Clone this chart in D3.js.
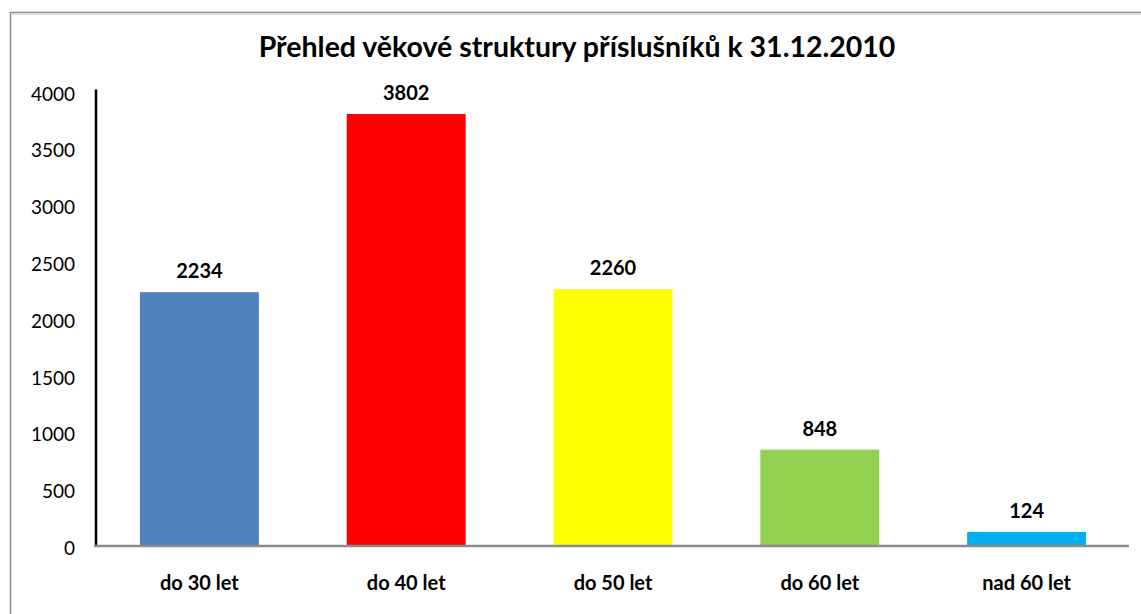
<!DOCTYPE html>
<html><head><meta charset="utf-8">
<script src="https://cdn.jsdelivr.net/npm/d3@7"></script>
<style>body{margin:0;background:#fff}svg{display:block}text{font-family:Lato,"Open Sans",sans-serif}</style>
</head><body>
<script>
const categories = ["do 30 let","do 40 let","do 50 let","do 60 let","nad 60 let"];
const values = [2234,3802,2260,848,124];
const colors = ["#4F81BD","#FF0000","#FFFF00","#92D050","#00B0F0"];
const yTicks = [0,500,1000,1500,2000,2500,3000,3500,4000];
const title = "Přehled věkové struktury příslušníků k 31.12.2010";

const W=1141,H=614;
const svg=d3.select("body").append("svg").attr("width",W).attr("height",H);
svg.append("rect").attr("x",10.5).attr("y",12.5).attr("width",1150).attr("height",620)
  .attr("fill","#fff").attr("stroke","#8c8c8c").attr("stroke-width",1.5);
svg.append("line").attr("x1",11).attr("x2",W).attr("y1",14.5).attr("y2",14.5).attr("stroke","#dcdcdc");

const m={l:96,r:1130,t:91.5,b:546};
const x=d3.scaleBand().domain(categories).range([m.l,m.r]).paddingInner(0.425).paddingOuter(0.2125);
const y=d3.scaleLinear().domain([0,4000]).range([m.b,m.t]);

svg.append("text").attr("x",577).attr("y",57).attr("text-anchor","middle")
  .attr("font-size",28.5).attr("font-weight","bold").attr("fill","#000").text(title);

svg.selectAll("rect.bar").data(values).enter().append("rect").attr("class","bar")
  .attr("x",(d,i)=>x(categories[i])).attr("width",x.bandwidth())
  .attr("y",d=>y(d)).attr("height",d=>y(0)-y(d)).attr("fill",(d,i)=>colors[i]);

svg.selectAll("text.val").data(values).enter().append("text").attr("class","val")
  .attr("x",(d,i)=>x(categories[i])+x.bandwidth()/2).attr("y",d=>y(d)-14)
  .attr("text-anchor","middle").attr("font-size",20).attr("font-weight","bold").text(d=>d);

const ya=svg.append("g").attr("transform",`translate(${m.l},0)`)
  .call(d3.axisLeft(y).tickValues(yTicks).tickSize(0).tickPadding(21).tickFormat(d3.format("d")));
ya.select(".domain").attr("stroke","#000").attr("stroke-width",2.5).attr("d",`M0,${m.t-2}V${m.b}`);
ya.selectAll("text").attr("font-size",19).attr("fill","#000").attr("font-family","Lato,sans-serif").attr("dy","0.45em");

const xa=svg.append("g").attr("transform",`translate(0,${m.b})`)
  .call(d3.axisBottom(x).tickSize(0).tickPadding(30));
xa.select(".domain").attr("stroke","#8c8c8c").attr("stroke-width",2.5).attr("d",`M${m.l-2},0H${m.r-1}`);
xa.selectAll("text").attr("font-size",20).attr("font-weight","bold").attr("fill","#000").attr("font-family","Lato,sans-serif");
</script>
</body></html>
